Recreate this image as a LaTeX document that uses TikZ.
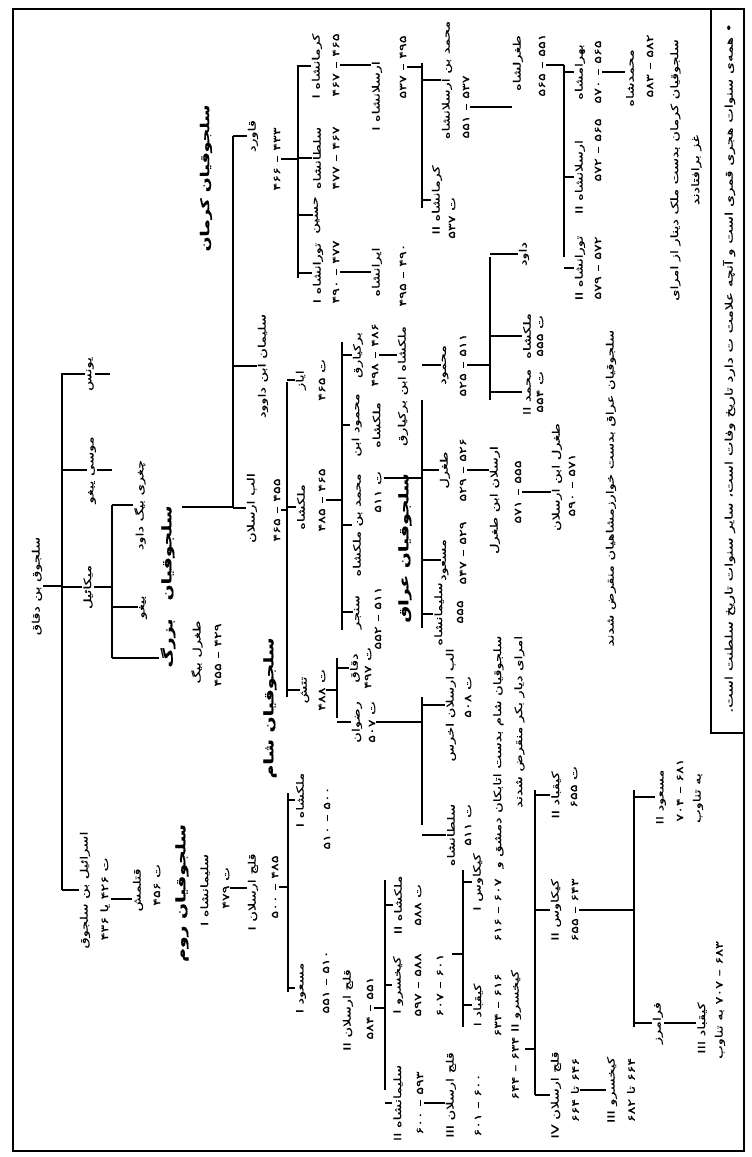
\documentclass[tikz,border=0pt]{standalone}
\usepackage{fontspec}
\newfontfamily\arabicfont[Script=Arabic,FakeStretch=1.45,FakeBold=0.35]{DejaVu Sans}
\TeXXeTstate=1
\newcommand\fa[1]{\beginR #1\endR}
\begin{document}
\begin{tikzpicture}[x=1pt,y=-1pt,
  ln/.style={line width=1.5pt},
  fr/.style={line width=1.4pt},
  nm/.style={rotate=90,inner sep=1pt,font=\arabicfont\fontsize{10}{11}\selectfont},
  dt/.style={nm},
  hd/.style={rotate=90,inner sep=1pt,font=\arabicfont\bfseries\fontsize{13}{14}\selectfont},
  nt/.style={rotate=90,inner sep=1pt,align=center,font=\arabicfont\fontsize{10}{21}\selectfont}]
\useasboundingbox (0,0) rectangle (752,1157);
% frame and legend box
\coordinate (F1) at (13,9);
\coordinate (F2) at (744,1151);
\coordinate (L1) at (711,9);
\coordinate (L2) at (711,733);
\coordinate (L3) at (744,733);
\draw[fr] (F1) rectangle (F2);
\draw[fr] (L1) -- (L2) -- (L3);
\node[nm,font=\arabicfont\fontsize{10.5}{12}\selectfont] (legend) at (729,368) {\fa{• همه‌ی سنوات هجری قمری است و آنچه علامت ت دارد تاریخ وفات است، سایر سنوات تاریخ سلطنت است.}};

% headings
\node[hd,font=\arabicfont\bfseries\fontsize{12}{13}\selectfont] (hKer) at (206,178) {\fa{سلجوقیان کرمان}};
\node[hd] (hBz1) at (168,553) {\fa{سلجوقیان}};
\node[hd] (hBz2) at (168,643) {\fa{بزرگ}};
\node[hd] (hSham) at (270,708) {\fa{سلجوقیان شام}};
\node[hd] (hIraq) at (405,548) {\fa{سلجوقیان عراق}};
\node[hd] (hRum) at (182,893) {\fa{سلجوقیان روم}};

% first generations
\node[nm] (root) at (37,586) {\fa{سلجوق بن دقاق}};
\node[nm] (yunus) at (90,374) {\fa{یونس}};
\node[nm] (musa) at (92,470) {\fa{موسی یبغو}};
\node[nm] (mikail) at (88,587) {\fa{میکائیل}};
\node[nm] (israil) at (85,890) {\fa{اسرائیل بن سلجوق}};
\node[dt] (israilD) at (105,899) {\fa{ت ۴۲۶ یا ۴۳۶}};
\node[nm] (qutal) at (138,890) {\fa{قتلمش}};
\node[dt] (qutalD) at (157,885) {\fa{ت ۴۵۶}};
\node[nm] (sulI) at (205,890) {\fa{سلیمانشاه I}};
\node[dt] (sulID) at (226,888) {\fa{ت ۴۷۹}};
\node[nm] (kilI) at (253,892) {\fa{قلج ارسلان I}};
\node[dt] (kilID) at (275,887) {\fa{۴۸۵ – ۵۰۰}};

\node[nm] (chaghri) at (140,505) {\fa{چغری بیگ داود}};
\node[nm] (bighu) at (143,607) {\fa{بیغو}};
\node[nm] (tughril) at (197,652) {\fa{طغرل بیگ}};
\node[dt] (tughrilD) at (218,655) {\fa{۴۲۹ – ۴۵۵}};

\node[nm] (qavurd) at (253,136) {\fa{قاورد}};
\node[dt] (qavurdD) at (277,159) {\fa{۴۳۳ – ۴۶۶}};
\node[nm] (sulD) at (263,366) {\fa{سلیمان ابن داوود}};
\node[nm] (alp) at (252,508) {\fa{الب ارسلان}};
\node[dt] (alpD) at (277,510) {\fa{۴۵۵ – ۴۶۵}};

% Kerman
\node[nm] (kerI) at (317,66) {\fa{کرمانشاه I}};
\node[dt] (kerID) at (336,65) {\fa{۴۶۵ – ۴۶۷}};
\node[nm] (sultan) at (317,158) {\fa{سلطانشاه}};
\node[dt] (sultanD) at (336,158) {\fa{۴۶۷ – ۴۷۷}};
\node[nm] (husayn) at (317,215) {\fa{حسین}};
\node[nm] (turI) at (318,273) {\fa{تورانشاه I}};
\node[dt] (turID) at (336,272) {\fa{۴۷۷ – ۴۹۰}};
\node[nm] (arsI) at (377,96) {\fa{ارسلانشاه I}};
\node[dt] (arsID) at (403,67) {\fa{۴۹۵ – ۵۳۷}};
\node[nm] (iran) at (377,272) {\fa{ایرانشاه}};
\node[dt] (iranD) at (403,275) {\fa{۴۹۰ – ۴۹۵}};
\node[nm] (muhI) at (447,80) {\fa{محمد بن ارسلانشاه}};
\node[dt] (muhID) at (466,107) {\fa{۵۳۷ – ۵۵۱}};
\node[nm] (kerII) at (437,200) {\fa{کرمانشاه II}};
\node[dt] (kerIID) at (452,218) {\fa{ت ۵۳۷}};
\node[nm] (tughsh) at (518,63) {\fa{طغرلشاه}};
\node[dt] (tughshD) at (542,65) {\fa{۵۵۱ – ۵۶۵}};
\node[nm] (bahram) at (580,72) {\fa{بهرامشاه}};
\node[dt] (bahramD) at (598,72) {\fa{۵۶۵ – ۵۷۰}};
\node[nm] (arsII) at (580,177) {\fa{ارسلانشاه II}};
\node[dt] (arsIID) at (598,150) {\fa{۵۶۵ – ۵۷۲}};
\node[nm] (turII) at (580,268) {\fa{تورانشاه II}};
\node[dt] (turIID) at (598,268) {\fa{۵۷۲ – ۵۷۹}};
\node[nm] (muhsh) at (630,78) {\fa{محمدشاه}};
\node[dt] (muhshD) at (650,66) {\fa{۵۸۲ – ۵۸۳}};
\node[nt] (kerNote) at (686,170) {\fa{سلجوقیان کرمان بدست ملک دینار از امرای}\\\fa{غز برافتادند}};

% Great Seljuks
\node[nm] (ayaz) at (301,380) {\fa{ایاز}};
\node[dt] (ayazD) at (322,380) {\fa{ت ۴۶۵}};
\node[nm] (malik) at (301,507) {\fa{ملکشاه}};
\node[dt] (malikD) at (322,500) {\fa{۴۶۵ – ۴۸۵}};
\node[nm] (tutush) at (305,690) {\fa{تتش}};
\node[dt] (tutushD) at (322,690) {\fa{ت ۴۸۸}};
\node[nm] (bark) at (358,355) {\fa{برکیارق}};
\node[dt] (barkD) at (375,355) {\fa{۴۸۶ – ۴۹۸}};
\node[nm] (malB) at (403,386) {\fa{ملکشاه ابن برکیارق}};
\node[nt,align=center] (mahM) at (366,425) {\fa{محمود ابن}\\\fa{ملکشاه}};
\node[nm] (muhM) at (358,525) {\fa{محمد بن ملکشاه}};
\node[dt] (muhMD) at (378,492) {\fa{ت ۵۱۱}};
\node[nm] (sanjar) at (358,612) {\fa{سنجر}};
\node[dt] (sanjarD) at (378,618) {\fa{۵۱۱ – ۵۵۲}};

% Iraq
\node[nm] (mahII) at (445,365) {\fa{محمود}};
\node[dt] (mahIID) at (463,365) {\fa{۵۱۱ – ۵۲۵}};
\node[nm] (tughII) at (445,470) {\fa{طغرل}};
\node[dt] (tughIID) at (463,470) {\fa{۵۲۶ – ۵۲۹}};
\node[nm] (masud) at (445,560) {\fa{مسعود}};
\node[dt] (masudD) at (463,553) {\fa{۵۲۹ – ۵۴۷}};
\node[nm] (sulsh) at (439,614) {\fa{سلیمانشاه}};
\node[dt] (sulshD) at (460,612) {\fa{۵۵۵}};
\node[nm] (dawud) at (524,254) {\fa{داود}};
\node[nm] (malIII) at (527,336) {\fa{ملکشاه}};
\node[dt] (malIIID) at (540,336) {\fa{ت ۵۵۵}};
\node[nm] (muhII) at (527,392) {\fa{محمد II}};
\node[dt] (muhIID) at (540,392) {\fa{ت ۵۵۴}};
\node[nm] (arsT) at (495,500) {\fa{ارسلان ابن طغرل}};
\node[dt] (arsTD) at (518,492) {\fa{۵۵۵ – ۵۷۱}};
\node[nm] (tughIII) at (557,477) {\fa{طغرل ابن ارسلان}};
\node[dt] (tughIIID) at (572,485) {\fa{۵۷۱ – ۵۹۰}};
\node[nm] (iraqNote) at (611,488) {\fa{سلجوقیان عراق بدست خوارزمشاهیان منقرض شدند}};

% Syria
\node[nm] (daqaq) at (355,668) {\fa{دقاق}};
\node[dt] (daqaqD) at (368,668) {\fa{ت ۴۹۷}};
\node[nm] (ridwan) at (357,722) {\fa{رضوان}};
\node[dt] (ridwanD) at (372,722) {\fa{ت ۵۰۷}};
\node[nm] (alpA) at (451,705) {\fa{الب ارسلان اخرس}};
\node[dt] (alpAD) at (468,697) {\fa{ت ۵۰۸}};
\node[nm] (sultA) at (451,835) {\fa{سلطانشاه}};
\node[dt] (sultAD) at (468,825) {\fa{ت ۵۱۱}};
\node[nt,align=right] (shamNote) at (509,752) {\fa{سلجوقیان شام بدست اتابکان دمشق و}\\\fa{امرای دیار بکر منقرض شدند}};

% Rum
\node[nm] (malI) at (300,800) {\fa{ملکشاه I}};
\node[dt] (malID) at (327,818) {\fa{۵۰۰ – ۵۱۰}};
\node[nm] (masI) at (301,988) {\fa{مسعود I}};
\node[dt] (masID) at (326,982) {\fa{۵۱۰ – ۵۵۱}};
\node[nm] (kilII) at (348,1010) {\fa{قلج ارسلان II}};
\node[dt] (kilIID) at (370,1008) {\fa{۵۵۱ – ۵۸۴}};
\node[nm] (malII) at (398,905) {\fa{ملکشاه II}};
\node[dt] (malIID) at (418,905) {\fa{ت ۵۸۸}};
\node[nm] (kayI) at (398,985) {\fa{کیخسرو I}};
\node[dt] (kayID) at (418,985) {\fa{۵۸۸ – ۵۹۷}};
\node[dt] (kayIE) at (440,985) {\fa{۶۰۱ – ۶۰۷}};
\node[nm] (sulII) at (398,1103) {\fa{سلیمانشاه II}};
\node[dt] (sulIID) at (420,1103) {\fa{۵۹۳ – ۶۰۰}};
\node[nm] (kilIII) at (451,1095) {\fa{قلج ارسلان III}};
\node[dt] (kilIIID) at (478,1105) {\fa{۶۰۰ – ۶۰۱}};
\node[nm] (kaykI) at (478,882) {\fa{کیکاوس I}};
\node[dt] (kaykID) at (498,910) {\fa{۶۰۷ – ۶۱۶}};
\node[nm] (kayqI) at (478,1005) {\fa{کیقباد I}};
\node[dt] (kayqID) at (498,1005) {\fa{۶۱۶ – ۶۳۴}};
\node[nm] (kayII) at (516,1035) {\fa{کیخسرو II ۶۳۴ – ۶۴۴}};
\node[nm] (kayqII) at (556,795) {\fa{کیقباد II}};
\node[dt] (kayqIID) at (574,787) {\fa{ت ۶۵۵}};
\node[nm] (kaykII) at (556,910) {\fa{کیکاوس II}};
\node[dt] (kaykIID) at (575,910) {\fa{۶۴۳ – ۶۵۵}};
\node[nm] (kilIV) at (556,1095) {\fa{قلج ارسلان IV}};
\node[dt] (kilIVD) at (575,1090) {\fa{۶۴۶ تا ۶۶۴}};
\node[nm] (kayIII) at (612,1090) {\fa{کیخسرو III}};
\node[dt] (kayIIID) at (631,1090) {\fa{۶۶۴ تا ۶۸۲}};
\node[nm] (masII) at (661,797) {\fa{مسعود II}};
\node[dt] (masIID) at (680,790) {\fa{۶۸۱ – ۷۰۴}};
\node[dt] (masIIE) at (698,798) {\fa{به تناوب}};
\node[nm] (faram) at (658,1023) {\fa{فرامرز}};
\node[nm] (kayqIII) at (702,1028) {\fa{کیقباد III}};
\node[dt] (kayqIIID) at (720,1000) {\fa{۶۸۳ – ۷۰۷ به تناوب}};

% brackets (spines)
\coordinate (B0a) at (62,373);  \coordinate (B0b) at (62,890);
\coordinate (B1a) at (112,505); \coordinate (B1b) at (112,658);
\coordinate (B2a) at (233,136); \coordinate (B2b) at (233,507);
\coordinate (B3a) at (298,65);  \coordinate (B3b) at (298,278);
\coordinate (B4a) at (422,63);  \coordinate (B4b) at (422,208);
\coordinate (B5a) at (564,65);  \coordinate (B5b) at (564,257);
\coordinate (B6a) at (287,382); \coordinate (B6b) at (287,697);
\coordinate (B7a) at (342,342); \coordinate (B7b) at (342,630);
\coordinate (B8a) at (422,400); \coordinate (B8b) at (422,628);
\coordinate (B9a) at (490,257); \coordinate (B9b) at (490,400);
\coordinate (BSa) at (337,658); \coordinate (BSb) at (337,718);
\coordinate (BTa) at (422,697); \coordinate (BTb) at (422,825);
\coordinate (BRa) at (288,793); \coordinate (BRb) at (288,992);
\coordinate (BKa) at (385,880); \coordinate (BKb) at (385,1090);
\coordinate (BQa) at (463,870); \coordinate (BQb) at (463,1027);
\coordinate (BXa) at (535,790); \coordinate (BXb) at (535,1095);
\coordinate (BYa) at (634,790); \coordinate (BYb) at (634,1027);
\foreach \a/\b in {B0a/B0b,B1a/B1b,B2a/B2b,B3a/B3b,B4a/B4b,B5a/B5b,B6a/B6b,B7a/B7b,B8a/B8b,B9a/B9b,BSa/BSb,BTa/BTb,BRa/BRb,BKa/BKb,BQa/BQb,BXa/BXb,BYa/BYb}
  \draw[ln] (\a) -- (\b);

% child ticks
\foreach \b/\c in {B0a/yunus,B0a/musa,B0a/mikail,B0a/israil,
  B1a/chaghri,B1a/bighu,
  B2a/qavurd,B2a/sulD,B2a/alp,
  B3a/kerI,B3a/sultan,B3a/husayn,B3a/turI,
  B4a/muhI,B4a/kerII,
  B5a/bahram,B5a/arsII,B5a/turII,
  B6a/ayaz,B6a/malik,B6a/tutush,
  B7a/bark,B7a/mahM,B7a/muhM,B7a/sanjar,
  B8a/mahII,B8a/tughII,B8a/masud,B8a/sulsh,
  B9a/dawud,B9a/malIII,B9a/muhII,
  BSa/daqaq,BSa/ridwan,
  BTa/alpA,BTa/sultA,
  BRa/malI,BRa/masI,
  BKa/malII,BKa/kayI,BKa/sulII,
  BQa/kaykI,BQa/kayqI,
  BXa/kayqII,BXa/kaykII,BXa/kilIV,
  BYa/masII,BYa/faram}
  \draw[ln] (\b |- \c) -- (\c.north);
\draw[ln] (B1b) -- (B1b -| hBz2.north);

% short stubs after childless names
\coordinate (yunusEnd) at (110,374);
\coordinate (musaEnd) at (112,470);
\draw[ln] (yunus.south) -- (yunusEnd);
\draw[ln] (musa.south) -- (musaEnd);

% parent links
\coordinate (chLink) at (182,507);
\coordinate (kayLink) at (452,954);
\coordinate (muhLink) at (384,478);
\coordinate (kayIILink) at (525,1049);
\draw[ln] (root.south) -- (root.south -| B0a);
\draw[ln] (mikail.south) -- (mikail.south -| B1a);
\draw[ln] (chLink) -- (chLink -| B2a);
\draw[ln] (qavurdD.south) -- (qavurdD.south -| B3a);
\draw[ln] (alpD.south) -- (alpD.south -| B6a);
\draw[ln] (kerID.south) -- (arsI.north |- kerID.south);
\draw[ln] (turID.south) -- (iran.north |- turID.south);
\draw[ln] (arsID.south) -- (arsID.south -| B4a);
\draw[ln] (muhID.south) -- (tughsh.north |- muhID.south);
\draw[ln] (tughshD.south) -- (tughshD.south -| B5a);
\draw[ln] (bahramD.south) -- (muhsh.north |- bahramD.south);
\draw[ln] (malikD.south) -- (malikD.south -| B7a);
\draw[ln] (barkD.south) -- (malB.north |- barkD.south);
\draw[ln] (muhLink) -- (muhLink -| B8a);
\draw[ln] (mahIID.south) -- (mahIID.south -| B9a);
\draw[ln] (tughIID.south) -- (arsT.north |- tughIID.south);
\draw[ln] (arsTD.south) -- (tughIII.north |- arsTD.south);
\draw[ln] (tutushD.south) -- (tutushD.south -| BSa);
\draw[ln] (ridwanD.south) -- (ridwanD.south -| BTa);
\draw[ln] (israilD.south) -- (qutal.north |- israilD.south);
\draw[ln] (sulID.south) -- (kilI.north |- sulID.south);
\draw[ln] (kilID.south) -- (kilID.south -| BRa);
\draw[ln] (kilIID.south) -- (kilIID.south -| BKa);
\draw[ln] (kayLink) -- (kayLink -| BQa);
\draw[ln] (sulIID.south) -- (kilIII.north |- sulIID.south);
\draw[ln] (kayIILink) -- (kayIILink -| BXa);
\draw[ln] (kaykIID.south) -- (kaykIID.south -| BYa);
\draw[ln] (kilIVD.south) -- (kayIII.north |- kilIVD.south);
\draw[ln] (faram.south) -- (kayqIII.north |- faram.south);
\end{tikzpicture}
\end{document}
